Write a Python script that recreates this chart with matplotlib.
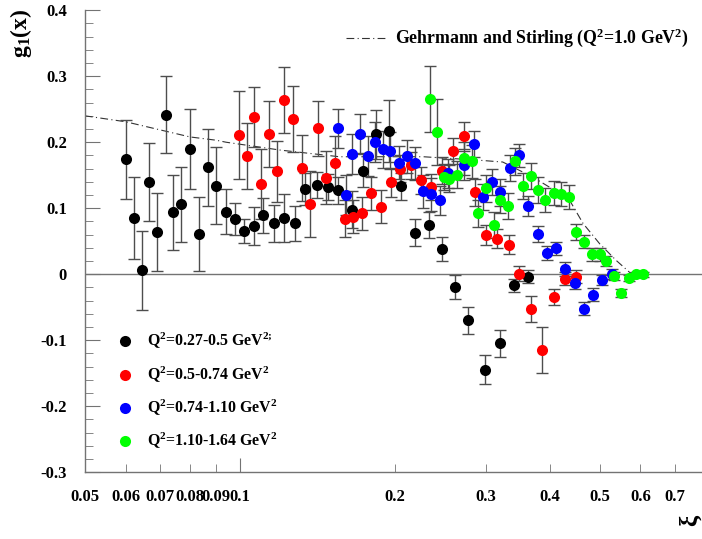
"""g1(xi) scatter with Q^2 bins and Gehrmann-Stirling curve."""

import matplotlib

matplotlib.use("Agg")

import matplotlib.pyplot as plt
from matplotlib.lines import Line2D
from matplotlib.ticker import FixedLocator, NullFormatter

plt.rcParams["font.family"] = ["Liberation Serif", "DejaVu Serif"]
plt.rcParams["font.weight"] = "bold"
plt.rcParams["mathtext.fontset"] = "custom"
plt.rcParams["mathtext.rm"] = "Liberation Serif:bold"
plt.rcParams["mathtext.bf"] = "Liberation Serif:bold"
plt.rcParams["mathtext.it"] = "Liberation Serif:bold"
plt.rcParams["mathtext.default"] = "bf"

# --- data ---
black_x = [0.0602, 0.0623, 0.0644, 0.0667, 0.069, 0.0718, 0.0743, 0.077, 0.080, 0.0833, 0.0866, 0.090,
           0.0938, 0.0978, 0.102, 0.1065, 0.111, 0.1166, 0.122, 0.128, 0.134, 0.141, 0.148, 0.155,
           0.165, 0.1735, 0.184, 0.195, 0.206, 0.219, 0.233, 0.247, 0.262, 0.277, 0.299, 0.32, 0.341, 0.362]
black_y = [0.174, 0.085, 0.006, 0.14, 0.064, 0.242, 0.094, 0.106, 0.19, 0.061, 0.162, 0.134,
           0.095, 0.084, 0.066, 0.073, 0.089, 0.077, 0.085, 0.077, 0.129, 0.135, 0.132, 0.127,
           0.098, 0.157, 0.212, 0.217, 0.133, 0.063, 0.075, 0.038, -0.019, -0.070, -0.145, -0.105, -0.017, -0.004]
black_err = [0.06, 0.062, 0.06, 0.059, 0.059, 0.058, 0.057, 0.057, 0.061, 0.056, 0.058, 0.058,
             0.034, 0.024, 0.018, 0.029, 0.026, 0.028, 0.036, 0.027, 0.024, 0.02, 0.02, 0.02,
             0.028, 0.025, 0.037, 0.047, 0.02, 0.02, 0.02, 0.018, 0.018, 0.02, 0.022, 0.02, 0.01, 0.01]

red_x = [0.0997, 0.103, 0.1066, 0.110, 0.114, 0.118, 0.122, 0.127, 0.132, 0.137, 0.142, 0.147, 0.153,
         0.16, 0.166, 0.173, 0.180, 0.188, 0.197, 0.205, 0.2146, 0.225, 0.235, 0.247, 0.259, 0.273,
         0.286, 0.30, 0.316, 0.333, 0.349, 0.368, 0.387, 0.408, 0.428, 0.449]
red_y = [0.211, 0.179, 0.238, 0.136, 0.212, 0.156, 0.264, 0.235, 0.161, 0.106, 0.221, 0.146, 0.169,
         0.084, 0.087, 0.092, 0.123, 0.102, 0.139, 0.160, 0.165, 0.142, 0.132, 0.157, 0.187, 0.21,
         0.124, 0.06, 0.054, 0.045, 0.001, -0.053, -0.115, -0.034, -0.007, -0.004]
red_err = [0.067, 0.05, 0.045, 0.053, 0.05, 0.046, 0.05, 0.05, 0.05, 0.05, 0.042, 0.04, 0.04,
           0.028, 0.025, 0.025, 0.025, 0.025, 0.022, 0.02, 0.02, 0.02, 0.02, 0.02, 0.02, 0.02,
           0.02, 0.015, 0.015, 0.015, 0.012, 0.02, 0.035, 0.012, 0.01, 0.01]

blue_x = [0.155, 0.161, 0.165, 0.171, 0.177, 0.183, 0.19, 0.196, 0.204, 0.211, 0.219, 0.227, 0.235, 0.245,
          0.254, 0.273, 0.285, 0.296, 0.309, 0.32, 0.335, 0.349, 0.363, 0.379, 0.395, 0.412, 0.429, 0.448,
          0.466, 0.486, 0.506, 0.528]
blue_y = [0.221, 0.12, 0.182, 0.213, 0.179, 0.2, 0.189, 0.187, 0.169, 0.179, 0.168, 0.126, 0.121, 0.112,
          0.153, 0.165, 0.197, 0.117, 0.14, 0.124, 0.161, 0.18, 0.103, 0.061, 0.032, 0.039, 0.008, -0.013,
          -0.052, -0.031, -0.009, 0.0]
blue_err = [0.03, 0.03, 0.03, 0.03, 0.03, 0.03, 0.028, 0.028, 0.025, 0.025, 0.025, 0.025, 0.025, 0.022,
            0.022, 0.022, 0.02, 0.02, 0.02, 0.02, 0.02, 0.018, 0.015, 0.012, 0.01, 0.01, 0.01, 0.01,
            0.01, 0.01, 0.008, 0.008]

green_x = [0.234, 0.241, 0.249, 0.255, 0.264, 0.273, 0.282, 0.29, 0.301, 0.311, 0.32, 0.332, 0.343, 0.355,
           0.367, 0.379, 0.392, 0.407, 0.42, 0.436, 0.45, 0.465, 0.482, 0.5, 0.515, 0.532, 0.55, 0.569,
           0.587, 0.606]
green_y = [0.265, 0.215, 0.147, 0.145, 0.151, 0.176, 0.171, 0.092, 0.13, 0.075, 0.113, 0.103, 0.171, 0.134,
           0.149, 0.128, 0.112, 0.123, 0.121, 0.117, 0.064, 0.049, 0.03, 0.03, 0.02, -0.003, -0.029, -0.006,
           0.0, 0.0]
green_err = [0.05, 0.05, 0.02, 0.02, 0.02, 0.025, 0.025, 0.02, 0.02, 0.02, 0.02, 0.02, 0.02, 0.02,
             0.02, 0.02, 0.018, 0.018, 0.018, 0.018, 0.012, 0.01, 0.01, 0.01, 0.008, 0.006, 0.006, 0.005,
             0.004, 0.004]

gs_x = [0.05, 0.06, 0.08, 0.09, 0.094, 0.12, 0.156, 0.2, 0.227, 0.288, 0.324, 0.371, 0.403, 0.437,
        0.464, 0.5, 0.538, 0.571, 0.58]
gs_y = [0.24, 0.231, 0.208, 0.203, 0.2, 0.188, 0.178, 0.178, 0.178, 0.173, 0.170, 0.147, 0.130, 0.112,
        0.077, 0.046, 0.021, 0.003, 0.0]

series_labels = [
    r"Q$^2$=0.27-0.5 GeV$^{2;}$",
    r"Q$^2$=0.5-0.74 GeV$^2$",
    r"Q$^2$=0.74-1.10 GeV$^2$",
    r"Q$^2$=1.10-1.64 GeV$^2$",
]
series_colors = ["black", "#ff0000", "#0000ff", "#00ff00"]

x_ticks = [0.05, 0.06, 0.07, 0.08, 0.09, 0.1, 0.2, 0.3, 0.4, 0.5, 0.6, 0.7]
x_tick_labels = ["0.05", "0.06", "0.07", "0.08", "0.09", "0.1", "0.2", "0.3", "0.4", "0.5", "0.6", "0.7"]
y_ticks = [-0.3, -0.2, -0.1, 0.0, 0.1, 0.2, 0.3, 0.4]
y_tick_labels = ["-0.3", "-0.2", "-0.1", "0", "0.1", "0.2", "0.3", "0.4"]

fig = plt.figure(figsize=(7.02, 5.39), dpi=100)
ax = fig.add_axes([0.121, 0.124, 0.879, 0.857])
ax.set_xscale("log")
ax.set_xlim(0.05, 0.79)
ax.set_ylim(-0.3, 0.4)

for side in ("top", "right"):
    ax.spines[side].set_visible(False)
for side in ("left", "bottom"):
    ax.spines[side].set_color("0.45")
    ax.spines[side].set_linewidth(1.0)

ax.axhline(0.0, color="0.45", linewidth=1.0, zorder=1)

ax.plot(gs_x, gs_y, color="0.2", linewidth=0.8, dashes=(7, 3, 1, 3), zorder=2)

all_x = [black_x, red_x, blue_x, green_x]
all_y = [black_y, red_y, blue_y, green_y]
all_err = [black_err, red_err, blue_err, green_err]
for xs, ys, es, color in zip(all_x, all_y, all_err, series_colors):
    ax.errorbar(xs, ys, yerr=es, fmt="none", ecolor="0.3", elinewidth=1.0,
                capsize=4, capthick=1.0, zorder=3)
    ax.plot(xs, ys, "o", color=color, markersize=8, markeredgewidth=0, zorder=4)

# ticks
ax.xaxis.set_major_locator(FixedLocator([0.1]))
ax.xaxis.set_minor_locator(FixedLocator([t for t in x_ticks if t != 0.1]))
ax.xaxis.set_major_formatter(NullFormatter())
ax.xaxis.set_minor_formatter(NullFormatter())
ax.tick_params(axis="x", which="major", direction="in", length=10, color="0.45", labelbottom=False)
ax.tick_params(axis="x", which="minor", direction="in", length=6, color="0.45", labelbottom=False)
for t, lab in zip(x_ticks, x_tick_labels):
    ax.text(t, -0.3 - 0.025, lab, ha="center", va="top", fontsize=12, fontweight="bold")

ax.set_yticks(y_ticks)
ax.set_yticklabels(y_tick_labels, fontsize=12, fontweight="bold")
ax.set_yticks([v / 100 for v in range(-30, 41, 2)], minor=True)
ax.tick_params(axis="y", which="major", direction="in", length=11, color="0.45", pad=13)
ax.tick_params(axis="y", which="minor", direction="in", length=6, color="0.45")

fig.text(21 / 702, 1 - 33 / 539, r"g$_1$(x)", rotation=90, ha="center", va="center",
         fontsize=17, fontweight="bold")
fig.text(690 / 702, 1 - 520 / 539, "ξ", rotation=90, ha="center", va="center",
         fontsize=18, fontweight="bold")

# top legend for the curve
fig.add_artist(Line2D([346 / 702, 388 / 702], [1 - 38 / 539, 1 - 38 / 539], color="0.2",
                      linewidth=0.8, dashes=(7, 3, 1, 3)))
fig.text(395 / 702, 1 - 38 / 539, r"Gehrmann and Stirling (Q$^2$=1.0 GeV$^2$)", ha="left",
         va="center", fontsize=12.8, fontweight="bold")

# lower legend for the Q^2 bins
leg_y = [341, 375, 408, 441]
for py, color, lab in zip(leg_y, series_colors, series_labels):
    fig.add_artist(Line2D([125 / 702], [1 - py / 539], marker="o", color=color, markersize=8,
                          markeredgewidth=0, linestyle="none"))
    fig.text(147 / 702, 1 - py / 539, lab, ha="left", va="center", fontsize=11.4, fontweight="bold")

fig.savefig("out.png", dpi=100)
